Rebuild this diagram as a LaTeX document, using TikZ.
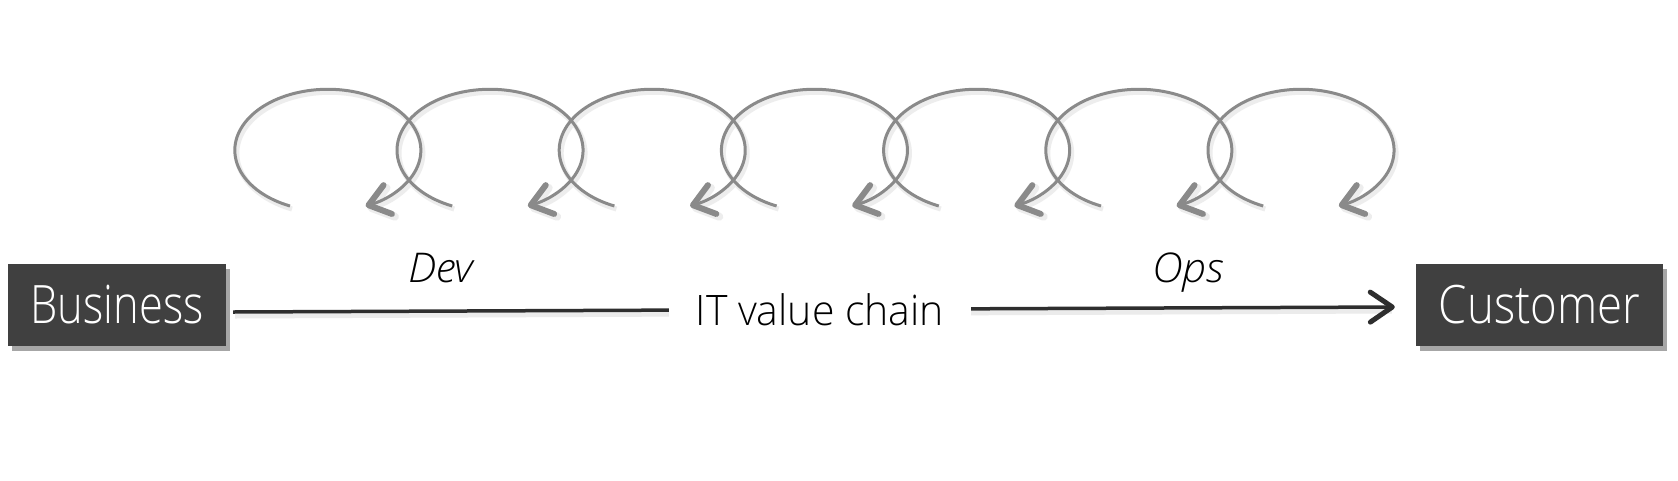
\documentclass[tikz,border=0pt]{standalone}
\usepackage{fontspec}
\setmainfont{Open Sans}
\IfFontExistsTF{OpenSans-Light.otf}{%
  \newfontfamily\bizfont[FakeStretch=0.82]{OpenSans-Light.otf}
  \newfontfamily\custfont[FakeStretch=0.86]{OpenSans-Light.otf}
  \newfontfamily\midfont[FakeStretch=0.975]{OpenSans-Light.otf}
  \newfontfamily\phasefont[FakeStretch=1.04]{OpenSans-LightItalic.otf}
}{\IfFontExistsTF{OpenSans-Light.ttf}{%
  \newfontfamily\bizfont[FakeStretch=0.82]{OpenSans-Light.ttf}
  \newfontfamily\custfont[FakeStretch=0.86]{OpenSans-Light.ttf}
  \newfontfamily\midfont[FakeStretch=0.975]{OpenSans-Light.ttf}
  \newfontfamily\phasefont[FakeStretch=1.04]{OpenSans-LightItalic.ttf}
}{%
  \newfontfamily\bizfont[FakeStretch=0.8]{Open Sans}
  \newfontfamily\custfont[FakeStretch=0.84]{Open Sans}
  \newfontfamily\midfont[FakeStretch=0.95]{Open Sans}
  \newfontfamily\phasefont[FakeStretch=1.0]{Open Sans}
}}
\usetikzlibrary{arrows.meta,shadows}
\definecolor{boxgray}{HTML}{404040}
\definecolor{loopgray}{HTML}{8A8A8A}
\definecolor{linegray}{HTML}{2E2E2E}
\tikzset{
  boxnode/.style={fill=boxgray, text=white, inner sep=0pt, minimum height=82pt,
    drop shadow={shadow xshift=4pt, shadow yshift=-5pt, opacity=0.35, fill=black}},
  looparc/.style={draw=loopgray, line width=3pt,
    -{Straight Barb[length=20pt,width=30pt,line width=6pt,round]}},
  loopshadow/.style={draw=black!7, line width=5pt,
    -{Straight Barb[length=20pt,width=30pt,line width=8pt,round]}},
  mainline/.style={draw=linegray, line width=3.5pt,
    -{Straight Barb[length=22pt,width=30pt,line width=5pt,round]}},
  mainshadow/.style={draw=black!8, line width=5pt},
  chainlabel/.style={fill=white, inner sep=0pt, minimum width=302pt, minimum height=40pt,
    font=\midfont\fontsize{42}{48}\selectfont},
  phaselabel/.style={font=\phasefont\itshape\fontsize{41}{46}\selectfont, anchor=base, inner sep=0pt}
}
\begin{document}
\begin{tikzpicture}[x=1pt,y=-1pt]
\useasboundingbox[fill=white] (0,0) rectangle (1678,480);
% loop shadows
\foreach \i in {0,...,6}{
  \draw[loopshadow] ({292+162.2*\i},209) arc[start angle=246, end angle=-66, x radius=93pt, y radius=61pt];
}
% loops
\foreach \i in {0,...,6}{
  \draw[looparc] ({290+162.2*\i},206) arc[start angle=246, end angle=-66, x radius=93pt, y radius=61pt];
}
% boxes
\node[boxnode, minimum width=218pt, font=\bizfont\fontsize{53}{60}\selectfont] (business) at (117,305) {Business};
\node[boxnode, minimum width=247pt, font=\custfont\fontsize{53}{60}\selectfont] (customer) at (1539.5,305) {Customer};
% main connector
\draw[mainshadow] ([xshift=9pt,yshift=-11pt]business.east) -- ([xshift=-24pt,yshift=-6pt]customer.west);
\draw[mainline] ([xshift=7pt,yshift=-7pt]business.east) --
  node[chainlabel, pos=0.505] (chain) {IT value chain}
  ([xshift=-21pt,yshift=-2pt]customer.west);
% phase labels
\node[phaselabel] (dev) at (441,282) {Dev};
\node[phaselabel] (ops) at (1188,282) {Ops};
\end{tikzpicture}
\end{document}
